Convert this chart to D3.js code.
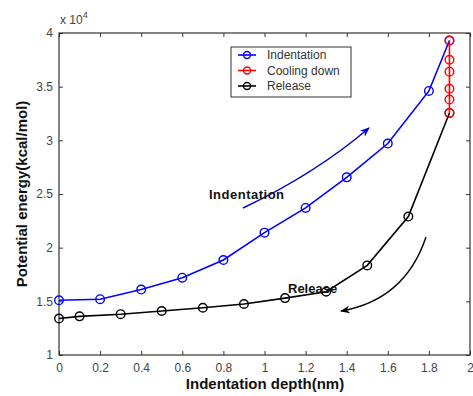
<!DOCTYPE html>
<html>
<head>
<meta charset="utf-8">
<script src="https://cdn.jsdelivr.net/npm/d3@7"></script>
<style>
body { margin: 0; background: #fff; }
text { font-family: "Liberation Sans", Arial, sans-serif; }
</style>
</head>
<body>
<script>
var width = 473;
var height = 396;

// data (potential energy in units of 1e4 kcal/mol)
var indentX = [0, 0.2, 0.4, 0.6, 0.8, 1.0, 1.2, 1.4, 1.6, 1.8, 1.9];
var indentY = [1.51, 1.52, 1.61, 1.72, 1.885, 2.14, 2.37, 2.655, 2.97, 3.46, 3.93];
var coolX = [1.9, 1.9, 1.9, 1.9, 1.9, 1.9];
var coolY = [3.93, 3.75, 3.64, 3.48, 3.38, 3.255];
var releaseX = [1.9, 1.7, 1.5, 1.3, 1.1, 0.9, 0.7, 0.5, 0.3, 0.1, 0];
var releaseY = [3.255, 2.29, 1.835, 1.59, 1.53, 1.475, 1.44, 1.41, 1.38, 1.36, 1.34];
var xTicks = [0, 0.2, 0.4, 0.6, 0.8, 1, 1.2, 1.4, 1.6, 1.8, 2];
var yTicks = [1, 1.5, 2, 2.5, 3, 3.5, 4];
var seriesNames = ["Indentation", "Cooling down", "Release"];
var seriesColors = ["#0000ff", "#ff0000", "#000000"];

var pLeft = 59, pRight = 470, pTop = 33, pBottom = 355;

var svg = d3.select("body")
    .append("svg")
    .attr("width", width)
    .attr("height", height);

var x = d3.scaleLinear().domain([0, 2]).range([pLeft, pRight]);
var y = d3.scaleLinear().domain([1, 4]).range([pBottom, pTop]);

// axes: ticks inward on all four sides
var axisColor = "#333";
function styleAxis(g) {
    g.select(".domain").remove();
    g.selectAll(".tick line").attr("stroke", axisColor);
    g.selectAll(".tick text").attr("fill", "#444")
        .style("font-size", "12px")
        .style("font-family", "'Liberation Sans', Arial, sans-serif");
}

svg.append("g")
    .attr("transform", "translate(0," + pBottom + ")")
    .call(d3.axisBottom(x).tickValues(xTicks).tickFormat(d3.format("")).tickSizeInner(-4).tickPadding(8))
    .call(styleAxis);
svg.append("g")
    .attr("transform", "translate(0," + pTop + ")")
    .call(d3.axisTop(x).tickValues(xTicks).tickFormat("").tickSizeInner(-4))
    .call(styleAxis);
svg.append("g")
    .attr("transform", "translate(" + pLeft + ",0)")
    .call(d3.axisLeft(y).tickValues(yTicks).tickFormat(d3.format("")).tickSizeInner(-4).tickPadding(6))
    .call(styleAxis);
svg.append("g")
    .attr("transform", "translate(" + pRight + ",0)")
    .call(d3.axisRight(y).tickValues(yTicks).tickFormat("").tickSizeInner(-4))
    .call(styleAxis);

svg.append("rect")
    .attr("x", pLeft).attr("y", pTop)
    .attr("width", pRight - pLeft).attr("height", pBottom - pTop)
    .attr("fill", "none").attr("stroke", axisColor).attr("stroke-width", 1.2);

// exponent label
var ex = svg.append("text").attr("x", pLeft + 1).attr("y", 24)
    .attr("fill", "#444").style("font-size", "12px");
ex.append("tspan").text("x 10");
ex.append("tspan").attr("dy", -6).style("font-size", "9px").text("4");

// series
var line = d3.line().x(function(d){ return x(d[0]); }).y(function(d){ return y(d[1]); });
function drawSeries(xs, ys, color) {
    var pts = d3.zip(xs, ys);
    svg.append("path").datum(pts)
        .attr("d", line)
        .attr("fill", "none")
        .attr("stroke", color)
        .attr("stroke-width", 1.6);
    svg.append("g").selectAll("circle").data(pts).enter()
        .append("circle")
        .attr("cx", function(d){ return x(d[0]); })
        .attr("cy", function(d){ return y(d[1]); })
        .attr("r", 4.3)
        .attr("fill", "none")
        .attr("stroke", color)
        .attr("stroke-width", 1.4);
}
drawSeries(indentX, indentY, seriesColors[0]);
drawSeries(releaseX, releaseY, seriesColors[2]);
drawSeries(coolX, coolY, seriesColors[1]);

// annotation arrows
var defs = svg.append("defs");
["blueHead", "blackHead"].forEach(function(id, i){
    defs.append("marker")
        .attr("id", id)
        .attr("viewBox", "0 0 10 10")
        .attr("refX", 9).attr("refY", 5)
        .attr("markerWidth", 7).attr("markerHeight", 7)
        .attr("orient", "auto")
        .append("path")
        .attr("d", "M0,1 L10,5 L0,9 L3,5 Z")
        .attr("fill", i == 0 ? "#0000cc" : "#000");
});

svg.append("path")
    .attr("d", "M243,208 Q315,174 369,128")
    .attr("fill", "none").attr("stroke", "#0000cc").attr("stroke-width", 1.4)
    .attr("marker-end", "url(#blueHead)");
svg.append("path")
    .attr("d", "M426,237 Q405,300 341,311")
    .attr("fill", "none").attr("stroke", "#000").attr("stroke-width", 1.4)
    .attr("marker-end", "url(#blackHead)");

svg.append("text").attr("x", 209).attr("y", 199)
    .style("font-size", "13px").style("font-weight", "bold").attr("fill", "#111")
    .style("letter-spacing", "0.5px")
    .text("Indentation");
svg.append("text").attr("x", 288).attr("y", 293)
    .style("font-size", "13px").style("font-weight", "bold").attr("fill", "#111")
    .text("Release");

// legend
var legend = svg.append("g");
legend.append("rect")
    .attr("x", 231).attr("y", 47).attr("width", 120).attr("height", 50)
    .attr("fill", "#fff").attr("stroke", axisColor).attr("stroke-width", 1);
seriesNames.forEach(function(name, i){
    var ly = 55 + i * 15.5;
    legend.append("line")
        .attr("x1", 238).attr("x2", 256).attr("y1", ly).attr("y2", ly)
        .attr("stroke", seriesColors[i]).attr("stroke-width", 1.6);
    legend.append("circle")
        .attr("cx", 247).attr("cy", ly).attr("r", 3.5)
        .attr("fill", "none").attr("stroke", seriesColors[i]).attr("stroke-width", 1.4);
    legend.append("text")
        .attr("x", 267).attr("y", ly + 4)
        .style("font-size", "12px").attr("fill", "#333")
        .text(name);
});

// axis titles
svg.append("text")
    .attr("x", 265).attr("y", 389)
    .attr("text-anchor", "middle")
    .style("font-size", "15px").style("font-weight", "bold").attr("fill", "#111")
    .text("Indentation depth(nm)");
svg.append("text")
    .attr("transform", "translate(27,194) rotate(-90)")
    .attr("text-anchor", "middle")
    .style("font-size", "15px").style("font-weight", "bold").attr("fill", "#111")
    .text("Potential energy(kcal/mol)");
</script>
</body>
</html>
